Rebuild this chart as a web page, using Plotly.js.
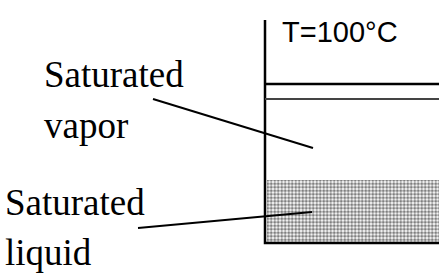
<!DOCTYPE html>
<html>
<head>
<meta charset="utf-8">
<script src="https://cdn.plot.ly/plotly-3.0.1.min.js"></script>
<style>html,body{margin:0;padding:0;background:#fff;}#chart{width:439px;height:275px;}</style>
</head>
<body>
<div id="chart"></div>
<script>
// Diagram geometry in the chart's own data units (x: 0..439, y: 0..275 downward)
const containerX = [265, 265, 439];
const containerY = [20, 243, 243];
const pistonTopY = [84, 84];
const pistonBottomY = [99, 99];
const pistonX = [265, 439];
const liquidTop = [180];
const liquidBottom = [243];
const liquidLeft = [267];
const liquidRight = [439];
const vaporLeaderX = [153, 313];
const vaporLeaderY = [99, 148];
const liquidLeaderX = [138, 312];
const liquidLeaderY = [228, 212];
const labelLines = ["Saturated", "vapor", "Saturated", "liquid"];
const labelX = [42, 42, 3, 3];
const labelY = [74, 125, 202, 252];
const tempLabel = ["T=100°C"];
const tempX = [280];
const tempY = [32];

const lineTrace = (x, y, w, c) => ({type: 'scatter', mode: 'lines', x: x, y: y,
  line: {color: c || '#000', width: w}, hoverinfo: 'skip', cliponaxis: false});

const data = [
  {type: 'bar', x: [(liquidLeft[0] + liquidRight[0]) / 2], width: [liquidRight[0] - liquidLeft[0]],
   base: liquidTop, y: [liquidBottom[0] - liquidTop[0]],
   marker: {color: '#fff', line: {width: 0},
     pattern: {shape: '.', fgcolor: '#000', bgcolor: '#fff', size: 3.5, solidity: 0.6, fillmode: 'overlay'}},
   hoverinfo: 'skip'},
  lineTrace(containerX, containerY, 2.5),
  lineTrace(pistonX, pistonTopY, 2.5),
  lineTrace(pistonX, pistonBottomY, 2, '#444'),
  lineTrace(vaporLeaderX, vaporLeaderY, 2),
  lineTrace(liquidLeaderX, liquidLeaderY, 2)
];

const annotations = labelLines.map((t, i) => ({
  text: t, x: labelX[i], y: labelY[i], xref: 'x', yref: 'y', xanchor: 'left', yanchor: 'middle',
  showarrow: false, font: {family: 'Liberation Serif, Times New Roman, serif', size: 37, color: '#000'}
}));
annotations.push({text: tempLabel[0], x: tempX[0], y: tempY[0], xref: 'x', yref: 'y',
  xanchor: 'left', yanchor: 'middle', showarrow: false,
  font: {family: 'Liberation Sans, Arial, sans-serif', size: 29, color: '#000'}});

const layout = {
  width: 439, height: 275, margin: {l: 0, r: 0, t: 0, b: 0},
  paper_bgcolor: '#fff', plot_bgcolor: '#fff', showlegend: false, bargap: 0,
  xaxis: {range: [0, 439], visible: false, fixedrange: true},
  yaxis: {range: [275, 0], visible: false, fixedrange: true},
  annotations: annotations
};
Plotly.newPlot('chart', data, layout, {staticPlot: true, displayModeBar: false});
</script>
</body>
</html>
